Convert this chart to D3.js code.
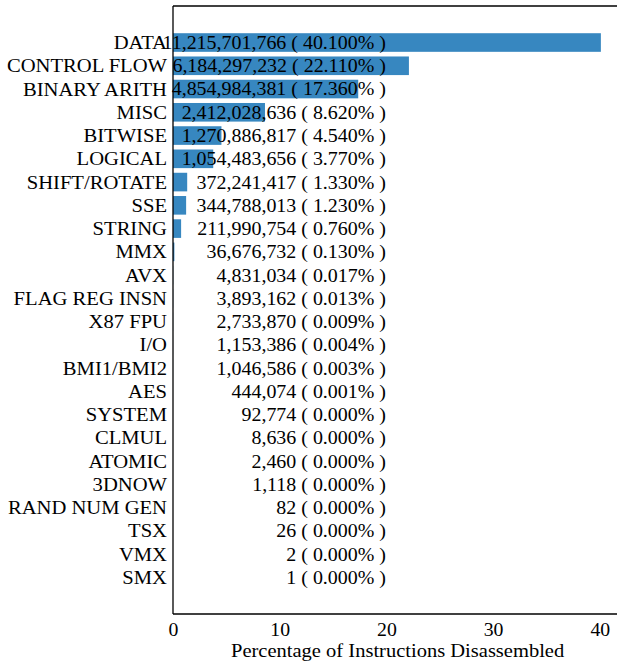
<!DOCTYPE html>
<html>
<head>
<meta charset="utf-8">
<script src="https://cdn.jsdelivr.net/npm/d3@7"></script>
<style>
  html, body { margin: 0; padding: 0; background: #fff; }
</style>
</head>
<body>
<svg id="chart" width="617" height="663"></svg>
<script>
// Instruction categories, largest first
const categories = [
  "DATA", "CONTROL FLOW", "BINARY ARITH", "MISC", "BITWISE", "LOGICAL",
  "SHIFT/ROTATE", "SSE", "STRING", "MMX", "AVX", "FLAG REG INSN", "X87 FPU",
  "I/O", "BMI1/BMI2", "AES", "SYSTEM", "CLMUL", "ATOMIC", "3DNOW",
  "RAND NUM GEN", "TSX", "VMX", "SMX"
];

// Number of instructions disassembled per category
const counts = [
  11215701766, 6184297232, 4854984381, 2412028636, 1270886817, 1054483656,
  372241417, 344788013, 211990754, 36676732, 4831034, 3893162, 2733870,
  1153386, 1046586, 444074, 92774, 8636, 2460, 1118, 82, 26, 2, 1
];

// Share of all disassembled instructions, in percent
const percents = [
  40.100, 22.110, 17.360, 8.620, 4.540, 3.770, 1.330, 1.230, 0.760, 0.130,
  0.017, 0.013, 0.009, 0.004, 0.003, 0.001, 0.000, 0.000, 0.000, 0.000,
  0.000, 0.000, 0.000, 0.000
];

const xTicks = [0, 10, 20, 30, 40];
const xLabel = "Percentage of Instructions Disassembled";

const svg = d3.select("#chart");
const plotLeft = 173, plotTop = 6, plotBottom = 614;
const xMax = 42.1;
const unit = 10.67;

const x = d3.scaleLinear().domain([0, xMax]).range([plotLeft, plotLeft + xMax * unit]);
const y = d3.scaleBand().domain(categories).range([plotTop, plotBottom])
  .paddingInner(0.2).paddingOuter(1.17);

const barColor = "#3787c0";
const fontFamily = '"Liberation Serif", "Times New Roman", serif';
const fontSize = 19;
// Horizontal widening of the serif face for each kind of label
const catStretch = 1.085, valStretch = 1.05, titleStretch = 1.08, tickStretch = 1.04;

function styleText(sel) {
  return sel.style("font-family", fontFamily)
    .style("font-size", fontSize + "px")
    .style("fill", "#000");
}

// Bars
svg.append("g").selectAll("rect")
  .data(categories)
  .join("rect")
  .attr("x", x(0))
  .attr("y", d => y(d))
  .attr("width", (d, i) => x(percents[i]) - x(0))
  .attr("height", y.bandwidth())
  .attr("fill", barColor);

// Value labels, right-aligned in a column
const fmt = d3.format(",");
const valueX = 386;
svg.append("g").selectAll("text")
  .data(categories)
  .join("text")
  .attr("transform", d => `translate(${valueX},${y(d) + y.bandwidth() / 2}) scale(${valStretch},1)`)
  .attr("dy", "0.34em")
  .attr("text-anchor", "end")
  .call(styleText)
  .text((d, i) => `${fmt(counts[i])} ( ${percents[i].toFixed(3)}% )`);

// Category axis (labels only)
const yAxis = d3.axisLeft(y).tickSize(0).tickPadding(6);
const gy = svg.append("g").attr("transform", `translate(${plotLeft},0)`).call(yAxis);
gy.select(".domain").remove();
gy.selectAll("text")
  .call(styleText)
  .attr("x", -6 / catStretch)
  .attr("transform", `scale(${catStretch},1)`)
  .attr("dy", "0.34em");

// Value axis (labels only)
const xAxis = d3.axisBottom(x).tickValues(xTicks).tickSize(0).tickPadding(9);
const gx = svg.append("g").attr("transform", `translate(0,${plotBottom})`).call(xAxis);
gx.select(".domain").remove();
gx.selectAll("text")
  .call(styleText)
  .attr("transform", `scale(${tickStretch},1)`);

// Frame: left, top, bottom spines
const frame = svg.append("g").attr("stroke", "#000").attr("stroke-width", 1.3).attr("fill", "none");
frame.append("line").attr("x1", plotLeft).attr("x2", plotLeft).attr("y1", plotTop).attr("y2", plotBottom);
frame.append("line").attr("x1", plotLeft).attr("x2", x(xMax)).attr("y1", plotTop).attr("y2", plotTop);
frame.append("line").attr("x1", plotLeft).attr("x2", x(xMax)).attr("y1", plotBottom).attr("y2", plotBottom);

// Axis title
svg.append("text")
  .attr("transform", `translate(${(x(0) + x(xMax)) / 2},657) scale(${titleStretch},1)`)
  .attr("text-anchor", "middle")
  .call(styleText)
  .text(xLabel);
</script>
</body>
</html>
